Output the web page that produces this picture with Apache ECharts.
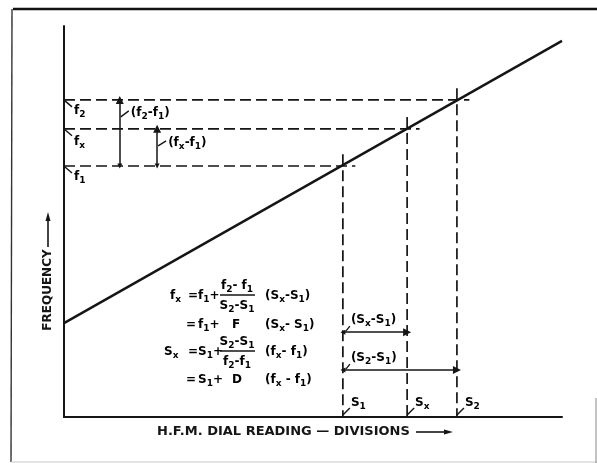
<!DOCTYPE html>
<html>
<head>
<meta charset="utf-8">
<script src="https://cdn.jsdelivr.net/npm/echarts@6/dist/echarts.min.js"></script>
<style>
  html, body { margin: 0; padding: 0; background: #fff; }
  #chart { width: 597px; height: 463px; }
</style>
</head>
<body>
<div id="chart"></div>
<script>
// Linear interpolation of a dial calibration: frequency against H.F.M. dial reading.
const lineDivisions = [0, 100];
const lineFrequency = [24, 96.2];
const pointKeys = ['1', 'x', '2'];          // subscripts of S and f
const dialReadings = [56, 68.9, 78.9];      // S1, Sx, S2 (divisions)
const frequencies = [64.2, 73.7, 81.1];     // f1, fx, f2
const yAxisTitle = 'FREQUENCY';
const xAxisTitle = 'H.F.M. DIAL READING — DIVISIONS';
const formulaRows = [
  ['f{x}', '=', 'f{1}+', ['f{2}- f{1}', 'S{2}-S{1}'], '(S{x}-S{1})'],
  ['', '=', 'f{1}+', 'F', '(S{x}- S{1})'],
  ['S{x}', '=', 'S{1}+', ['S{2}-S{1}', 'f{2}-f{1}'], '(f{x}- f{1})'],
  ['', '=', 'S{1}+', 'D', '(f{x} - f{1})']
];

const INK = '#151515';
const FONT = '"DejaVu Sans", "Liberation Sans", sans-serif';
const rich = {
  m: { fontFamily: FONT, fontWeight: 'bold', fontSize: 12, lineHeight: 16, verticalAlign: 'middle', color: INK },
  s: { fontFamily: FONT, fontWeight: 'bold', fontSize: 9, lineHeight: 9, verticalAlign: 'bottom', color: INK }
};
// 'f{2}' -> rich text with a lowered subscript
function rt(str) {
  return ('{m|' + str.replace(/\{(\w)\}/g, '}{s|$1}{m|') + '}').replace(/\{m\|\}/g, '');
}

const [i1, ix, i2] = [0, 1, 2];
const S = dialReadings, f = frequencies;
const sub = k => '{' + pointKeys[k] + '}';

// dashed projection lines, a little past each point
const extX = 2.5, extY = 3;
const guides = [];
dialReadings.forEach((s, k) => {
  guides.push([[0, f[k]], [s + extX, f[k]]]);
  guides.push([[s, f[k] + extY], [s, 0]]);
});

// dimension arrows
const dimX1 = 11.2, dimX2 = 18.7, dimY1 = 21.7, dimY2 = 12.0;
const arrows = [
  [[dimX1, f[i1]], [dimX1, f[i2]]],
  [[dimX2, f[i1]], [dimX2, f[ix]]],
  [[S[i1], dimY1], [S[ix], dimY1]],
  [[S[i1], dimY2], [S[i2], dimY2]]
];

// labels with short leaders; anchor in data units, offsets in pixels
const annotations = [];
pointKeys.forEach((key, k) => {
  annotations.push({ at: [0, f[k]], text: 'f' + sub(k), leader: [1, 1, 8, 7], dx: 10, dy: k === ix ? 13 : 11 });
  annotations.push({ at: [S[k], 0], text: 'S' + sub(k), leader: [0, -2, 7, -9], dx: 8, dy: -14 });
});
annotations.push({ at: [dimX1, f[i2]], text: '(f' + sub(i2) + '-f' + sub(i1) + ')', leader: [1, 17, 9, 11], dx: 11, dy: 13 });
annotations.push({ at: [dimX2, f[ix]], text: '(f' + sub(ix) + '-f' + sub(i1) + ')', leader: [1, 17, 9, 12], dx: 11, dy: 14 });
annotations.push({ at: [S[i1], dimY1], text: '(S' + sub(ix) + '-S' + sub(i1) + ')', leader: [3, -1, 7, -6], dx: 8, dy: -12 });
annotations.push({ at: [S[i1], dimY2], text: '(S' + sub(i2) + '-S' + sub(i1) + ')', leader: [3, -1, 7, -6], dx: 8, dy: -12 });

// formula block (pixel layout)
const colX = [170, 188, 198, 237, 265];
const rowY = [296, 325, 352, 380];
const formulaGraphics = [];
formulaRows.forEach((row, r) => {
  row.forEach((cell, c) => {
    if (cell === '') return;
    if (Array.isArray(cell)) {
      formulaGraphics.push({ type: 'text', x: colX[c], y: rowY[r] - 10, style: { text: rt(cell[0]), rich, align: 'center', verticalAlign: 'middle' } });
      formulaGraphics.push({ type: 'line', shape: { x1: colX[c] - 17, y1: rowY[r] - 1, x2: colX[c] + 18, y2: rowY[r] - 1 }, style: { stroke: INK, lineWidth: 1.3 } });
      formulaGraphics.push({ type: 'text', x: colX[c], y: rowY[r] + 10, style: { text: rt(cell[1]), rich, align: 'center', verticalAlign: 'middle' } });
    } else {
      const x = (r === 2 && c === 0) ? 164 : (c === 1 && (r === 1 || r === 3) ? 186 : (c === 3 ? colX[c] - 5 : colX[c]));
      formulaGraphics.push({ type: 'text', x, y: rowY[r], style: { text: rt(cell), rich, align: 'left', verticalAlign: 'middle' } });
    }
  });
});

const titleFont = { fontFamily: FONT, fontWeight: 'bold', fill: INK };

const chart = echarts.init(document.getElementById('chart'), null, { renderer: 'canvas' });
chart.setOption({
  animation: false,
  backgroundColor: '#fff',
  grid: { left: 64, right: 35, top: 26, bottom: 46 },
  xAxis: {
    type: 'value', min: 0, max: 100,
    axisLine: { show: true, onZero: false, lineStyle: { color: INK, width: 2 } },
    axisTick: { show: false }, axisLabel: { show: false }, splitLine: { show: false }
  },
  yAxis: {
    type: 'value', min: 0, max: 100,
    axisLine: { show: true, onZero: false, lineStyle: { color: INK, width: 2 } },
    axisTick: { show: false }, axisLabel: { show: false }, splitLine: { show: false }
  },
  series: [
    {
      type: 'line', silent: true, symbol: 'none',
      data: lineDivisions.map((s, k) => [s, lineFrequency[k]]),
      lineStyle: { color: INK, width: 2.4 }
    },
    ...guides.map(g => ({
      type: 'line', silent: true, symbol: 'none', data: g,
      lineStyle: { color: INK, width: 1.7, type: [11, 5] }
    })),
    {
      type: 'lines', coordinateSystem: 'cartesian2d', silent: true,
      symbol: ['triangle', 'triangle'], symbolSize: [5, 8],
      lineStyle: { color: INK, width: 1.5, opacity: 1 },
      itemStyle: { color: INK },
      data: arrows.map(c => ({ coords: c }))
    },
    {
      type: 'custom', silent: true, clip: false,
      data: annotations.map(a => a.at),
      renderItem(params, api) {
        const a = annotations[params.dataIndex];
        const p = api.coord([api.value(0), api.value(1)]);
        const L = a.leader;
        return {
          type: 'group',
          children: [
            { type: 'line', shape: { x1: p[0] + L[0], y1: p[1] + L[1], x2: p[0] + L[2], y2: p[1] + L[3] }, style: { stroke: INK, lineWidth: 1.4 } },
            { type: 'text', x: p[0] + a.dx, y: p[1] + a.dy, style: { text: rt(a.text), rich, align: 'left', verticalAlign: 'middle' } }
          ]
        };
      }
    }
  ],
  graphic: [
    // border
    { type: 'line', shape: { x1: 13, y1: 9, x2: 597, y2: 9 }, style: { stroke: '#111', lineWidth: 2.5 } },
    { type: 'line', shape: { x1: 12, y1: 9, x2: 11, y2: 462 }, style: { stroke: '#333', lineWidth: 1.4 } },
    { type: 'line', shape: { x1: 11, y1: 462, x2: 597, y2: 462 }, style: { stroke: '#c8c8c8', lineWidth: 1 } },
    { type: 'line', shape: { x1: 596, y1: 398, x2: 596, y2: 463 }, style: { stroke: '#888', lineWidth: 1 } },
    // axis titles
    { type: 'text', x: 48, y: 290, rotation: Math.PI / 2, style: Object.assign({ text: yAxisTitle, fontSize: 12, align: 'center', verticalAlign: 'middle' }, titleFont) },
    { type: 'line', shape: { x1: 48, y1: 247, x2: 48, y2: 219 }, style: { stroke: INK, lineWidth: 1.6 } },
    { type: 'polygon', shape: { points: [[48, 212], [45.5, 221], [50.5, 221]] }, style: { fill: INK } },
    { type: 'text', x: 157, y: 432, style: Object.assign({ text: xAxisTitle, fontSize: 13, align: 'left', verticalAlign: 'middle' }, titleFont) },
    { type: 'line', shape: { x1: 416, y1: 432, x2: 446, y2: 432 }, style: { stroke: INK, lineWidth: 1.6 } },
    { type: 'polygon', shape: { points: [[453, 432], [444, 429.5], [444, 434.5]] }, style: { fill: INK } },
    ...formulaGraphics
  ]
});
</script>
</body>
</html>
